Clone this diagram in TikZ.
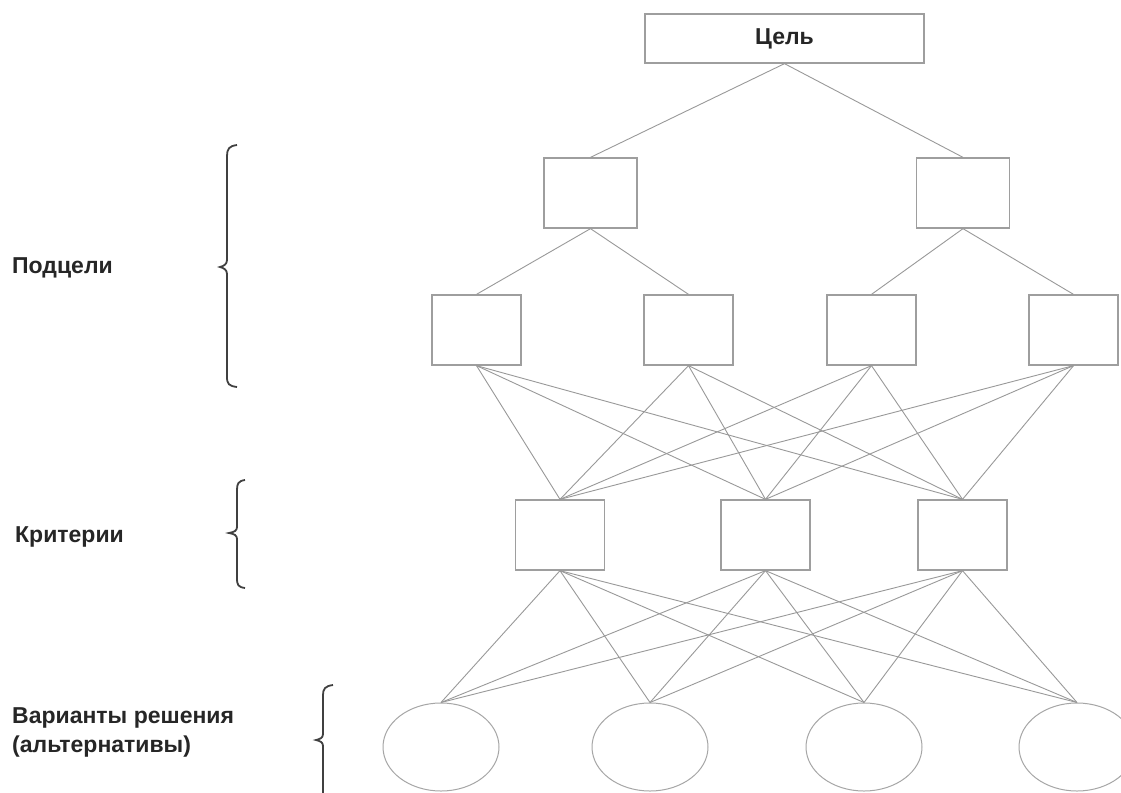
\documentclass[tikz,border=0pt]{standalone}
\usepackage{fontspec}
\setmainfont{Liberation Sans}
\usetikzlibrary{shapes.geometric}
\begin{document}
\begin{tikzpicture}[x=1pt,y=-1pt,
  box/.style={draw=black!38,line width=1.3pt,inner sep=0pt,minimum width=89pt,minimum height=70pt},
  oval/.style={ellipse,draw=black!35,line width=1pt,inner sep=0pt,minimum width=116pt,minimum height=88pt},
  link/.style={draw=black!40,line width=0.9pt},
  brace/.style={draw=black!75,line width=1.8pt},
  lbl/.style={anchor=west,inner sep=0pt,font=\fontsize{23}{29}\selectfont\bfseries,align=left,text=black!85}]
\useasboundingbox (0,0) rectangle (1121,792);
\fill[white] (0,0) rectangle (1121,792);
% nodes
\node[box,minimum width=279pt,minimum height=49pt,font=\fontsize{23}{26}\selectfont\bfseries,text=black!85] (goal) at (784.5,38.5) {Цель};
\node[box,minimum width=93pt] (s1) at (590.5,193) {};
\node[box,minimum width=93pt] (s2) at (963,193) {};
\node[box] (t1) at (476.5,330) {};
\node[box] (t2) at (688.5,330) {};
\node[box] (t3) at (871.5,330) {};
\node[box] (t4) at (1073.5,330) {};
\node[box] (c1) at (560,535) {};
\node[box] (c2) at (765.5,535) {};
\node[box] (c3) at (962.5,535) {};
\node[oval] (a1) at (441,747) {};
\node[oval] (a2) at (650,747) {};
\node[oval] (a3) at (864,747) {};
\node[oval] (a4) at (1077,747) {};
% connectors
\draw[link] (goal.south) -- (s1.north);
\draw[link] (goal.south) -- (s2.north);
\draw[link] (s1.south) -- (t1.north);
\draw[link] (s1.south) -- (t2.north);
\draw[link] (s2.south) -- (t3.north);
\draw[link] (s2.south) -- (t4.north);
\foreach \t in {t1,t2,t3,t4}{
  \foreach \c in {c1,c2,c3}{
    \draw[link] (\t.south) -- (\c.north);
  }
}
\foreach \c in {c1,c2,c3}{
  \foreach \a in {a1,a2,a3,a4}{
    \draw[link] (\c.south) -- (\a.north);
  }
}
% labels
\node[lbl] (lsub) at (12,268) {Подцели};
\node[lbl] (lcrit) at (15,537) {Критерии};
\node[lbl] (lalt) at (12,732) {Варианты решения\\(альтернативы)};
% braces
\draw[brace] (237,145) .. controls (229,146) and (227,149) .. (227,156)
  -- (227,260) .. controls (227,264) and (224,266) .. (220,267)
  .. controls (224,268) and (227,270) .. (227,274)
  -- (227,377) .. controls (227,384) and (229,386) .. (237,387);
\draw[brace] (245,480) .. controls (238,481) and (237,484) .. (237,490)
  -- (237,527) .. controls (237,531) and (234,532) .. (229,533)
  .. controls (234,534) and (237,535) .. (237,539)
  -- (237,578) .. controls (237,585) and (238,587) .. (245,588);
\draw[brace] (333,685) .. controls (325,686) and (323,689) .. (323,695)
  -- (323,734) .. controls (323,738) and (320,739) .. (316,740)
  .. controls (320,741) and (323,742) .. (323,746)
  -- (323,800);
\end{tikzpicture}
\end{document}
